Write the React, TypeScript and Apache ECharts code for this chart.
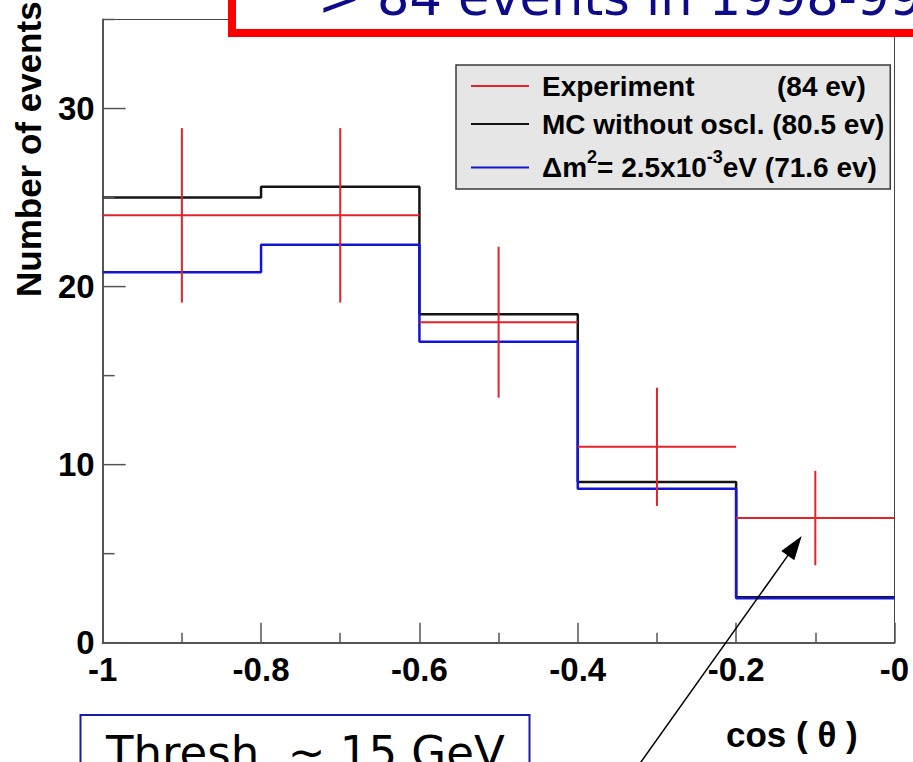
import React, { useEffect, useRef } from 'react';
import * as echarts from 'echarts';

// Zenith-angle distribution of up-going muon events, 5 bins in cos(theta)
const binEdges = [-1, -0.8, -0.6, -0.4, -0.2, 0];
const experimentCounts = [24, 24, 18, 11, 7];
const experimentErrors = [4.9, 4.9, 4.24, 3.32, 2.65];
const mcNoOscillation = [25.0, 25.6, 18.45, 9.03, 2.55];
const mcOscillation = [20.8, 22.35, 16.9, 8.65, 2.5];

const xTickValues = [-1, -0.8, -0.6, -0.4, -0.2, 0];
const xTickLabels = ['-1', '-0.8', '-0.6', '-0.4', '-0.2', '-0'];
const yMajorTicks = [0, 10, 20, 30];
const yMinorTicks = [5, 15, 25, 35];
const yTickLabels = ['0', '10', '20', '30'];

const SERIES_EXP = 'Experiment';
const SERIES_MC = 'MC without oscl.';
const SERIES_OSC = 'Δm2 = 2.5x10-3 eV';

const ROOT_FONT = '"Liberation Sans", Arial, Helvetica, sans-serif';
const SLIDE_FONT = '"DejaVu Sans", "Noto Sans", sans-serif';
const AXIS_GRAY = '#555555';
const RED = '#e3222a';
const BLACK = '#141414';
const BLUE = '#1414d8';

// tick lengths (px) of the ROOT-style inward y ticks
const Y_MAJOR_TICK_LEN = 23;
const Y_MINOR_TICK_LEN = 12;

// histogram outline: one point per left bin edge plus the closing right edge
const stepPoints = (values: number[]) =>
  binEdges.map((x, i) => [x, values[Math.min(i, values.length - 1)]]);

const experimentData = experimentCounts.map((v, i) => [
  (binEdges[i] + binEdges[i + 1]) / 2,
  v,
  binEdges[i],
  binEdges[i + 1],
  experimentErrors[i],
]);

// y ticks sit on the left axis (x = axis minimum)
const yTickData = [
  ...yMajorTicks.map((v) => [binEdges[0], v, Y_MAJOR_TICK_LEN]),
  ...yMinorTicks.map((v) => [binEdges[0], v, Y_MINOR_TICK_LEN]),
];

export default function App() {
  const ref = useRef<HTMLDivElement>(null);

  useEffect(() => {
    if (!ref.current) return;
    const chart = echarts.init(ref.current, undefined, { renderer: 'svg' });

    const labelFont = {
      fontFamily: ROOT_FONT,
      fontWeight: 'bold' as const,
      fontSize: 33,
      color: '#000',
    };

    const legendRich = {
      a: { fontFamily: ROOT_FONT, fontWeight: 'bold', fontSize: 28, lineHeight: 32, width: 235, color: '#000' },
      b: { fontFamily: ROOT_FONT, fontWeight: 'bold', fontSize: 28, lineHeight: 32, color: '#000' },
      t: { fontFamily: ROOT_FONT, fontWeight: 'bold', fontSize: 28, lineHeight: 32, color: '#000' },
      m: { fontFamily: ROOT_FONT, fontWeight: 'bold', fontSize: 28, lineHeight: 42, color: '#000' },
      sup: {
        fontFamily: ROOT_FONT,
        fontWeight: 'bold',
        fontSize: 18,
        lineHeight: 18,
        padding: [0, 0, 21, 0],
        color: '#000',
      },
    };

    const legendText: Record<string, string> = {
      [SERIES_EXP]: '{a|Experiment}{b|(84 ev)}',
      [SERIES_MC]: '{t|MC without oscl. (80.5 ev)}',
      [SERIES_OSC]: '{m|\u0394m}{sup|2}{m|= 2.5x10}{sup|-3}{m|eV (71.6 ev)}',
    };

    const option: any = {
      animation: false,
      backgroundColor: '#ffffff',
      grid: {
        left: 102.7,
        right: 18.5,
        top: 19.5,
        bottom: 119.3,
        show: true,
        borderColor: '#444',
        borderWidth: 1,
        backgroundColor: 'transparent',
      },
      legend: {
        orient: 'vertical',
        left: 456,
        top: 65,
        padding: [7, 6, 2, 15],
        itemGap: 10,
        itemWidth: 58,
        itemHeight: 2,
        icon: 'rect',
        selectedMode: false,
        backgroundColor: '#e6e6e6',
        borderColor: '#3a3a3a',
        borderWidth: 1.5,
        data: [SERIES_EXP, SERIES_MC, SERIES_OSC],
        formatter: (name: string) => legendText[name] || name,
        textStyle: {
          fontFamily: ROOT_FONT,
          fontWeight: 'bold',
          fontSize: 28,
          color: '#000',
          padding: [0, 0, 0, 8],
          rich: legendRich,
        },
      },
      xAxis: {
        type: 'value',
        min: -1,
        max: 0,
        interval: 0.2,
        axisLine: { show: true, onZero: false, lineStyle: { color: AXIS_GRAY, width: 2 } },
        axisTick: { show: true, inside: true, length: 20, lineStyle: { color: AXIS_GRAY, width: 1.5 } },
        minorTick: { show: true, splitNumber: 2, length: 10, lineStyle: { color: AXIS_GRAY, width: 1.5 } },
        splitLine: { show: false },
        axisLabel: {
          ...labelFont,
          margin: 10,
          formatter: (v: number) => {
            const idx = xTickValues.findIndex((t) => Math.abs(t - v) < 1e-6);
            return idx >= 0 ? xTickLabels[idx] : '';
          },
        },
      },
      yAxis: {
        type: 'value',
        min: 0,
        max: 35,
        interval: 10,
        position: 'left',
        axisLine: { show: true, onZero: false, lineStyle: { color: AXIS_GRAY, width: 2 } },
        axisTick: { show: false },
        axisLabel: {
          ...labelFont,
          margin: 8,
          formatter: (v: number) => {
            const idx = yMajorTicks.indexOf(Math.round(v));
            return idx >= 0 ? yTickLabels[idx] : '';
          },
        },
        splitLine: { show: false },
      },
      series: [
        {
          name: 'y ticks',
          type: 'custom',
          silent: true,
          z: 5,
          encode: { x: 0, y: 1 },
          data: yTickData,
          renderItem: (params: any, api: any) => {
            const p = api.coord([api.value(0), api.value(1)]);
            return {
              type: 'line',
              shape: { x1: p[0], y1: p[1], x2: p[0] + api.value(2), y2: p[1] },
              style: { stroke: AXIS_GRAY, lineWidth: 1.5 },
            };
          },
        },
        {
          name: SERIES_MC,
          type: 'line',
          step: 'end',
          symbol: 'none',
          color: BLACK,
          lineStyle: { color: BLACK, width: 2.5 },
          data: stepPoints(mcNoOscillation),
          z: 2,
        },
        {
          name: SERIES_OSC,
          type: 'line',
          step: 'end',
          symbol: 'none',
          color: BLUE,
          lineStyle: { color: BLUE, width: 2.5 },
          data: stepPoints(mcOscillation),
          z: 3,
        },
        {
          name: SERIES_EXP,
          type: 'custom',
          color: RED,
          itemStyle: { color: RED },
          encode: { x: [0, 2, 3], y: [1] },
          data: experimentData,
          z: 4,
          renderItem: (params: any, api: any) => {
            const xc = api.value(0);
            const y = api.value(1);
            const err = api.value(4);
            const left = api.coord([api.value(2), y]);
            const right = api.coord([api.value(3), y]);
            const top = api.coord([xc, y + err]);
            const bottom = api.coord([xc, y - err]);
            const style = { stroke: RED, lineWidth: 2, fill: null };
            return {
              type: 'group',
              children: [
                { type: 'line', shape: { x1: left[0], y1: left[1], x2: right[0], y2: right[1] }, style },
                { type: 'line', shape: { x1: top[0], y1: top[1], x2: bottom[0], y2: bottom[1] }, style },
              ],
            };
          },
        },
      ],
      graphic: [
        // axis titles
        {
          type: 'text',
          x: 28,
          y: 297,
          rotation: Math.PI / 2,
          style: {
            text: 'Number of events',
            fontFamily: ROOT_FONT,
            fontWeight: 'bold',
            fontSize: 35,
            fill: '#000',
            align: 'left',
            verticalAlign: 'middle',
          },
        },
        {
          type: 'text',
          x: 726,
          y: 734,
          style: {
            text: 'cos ( \u03b8 )',
            fontFamily: ROOT_FONT,
            fontWeight: 'bold',
            fontSize: 35,
            fill: '#000',
            align: 'left',
            verticalAlign: 'middle',
          },
        },
        // headline box at the top
        {
          type: 'rect',
          z: 100,
          shape: { x: 232, y: -60, width: 740, height: 93 },
          style: { fill: '#ffffff', stroke: '#ff0000', lineWidth: 8 },
        },
        {
          type: 'text',
          z: 101,
          x: 318,
          y: 23,
          style: {
            text: '> 84 events in 1998-99',
            fontFamily: SLIDE_FONT,
            fontSize: 51,
            fill: '#0c0c8a',
            align: 'left',
            verticalAlign: 'bottom',
          },
        },
        // threshold note box
        {
          type: 'rect',
          z: 100,
          shape: { x: 80.5, y: 715, width: 449, height: 80 },
          style: { fill: '#ffffff', stroke: '#1a1aa6', lineWidth: 2 },
        },
        {
          type: 'text',
          z: 101,
          x: 106,
          y: 730,
          style: {
            text: 'Thresh. ~ 15 GeV',
            fontFamily: SLIDE_FONT,
            fontSize: 45,
            fill: '#000',
            align: 'left',
            verticalAlign: 'top',
          },
        },
        // pointer arrow to the last bin
        {
          type: 'line',
          z: 100,
          shape: { x1: 631.7, y1: 775, x2: 788.5, y2: 554.6 },
          style: { stroke: '#000', lineWidth: 1.5 },
        },
        {
          type: 'polygon',
          z: 100,
          shape: { points: [[801.7, 536], [794.3, 560.2], [781.3, 551.0]] },
          style: { fill: '#000' },
        },
      ],
    };

    chart.setOption(option);
    return () => chart.dispose();
  }, []);

  return (
    <div
      ref={ref}
      style={{ position: 'fixed', left: 0, top: 0, width: 913, height: 762, background: '#fff' }}
    />
  );
}
